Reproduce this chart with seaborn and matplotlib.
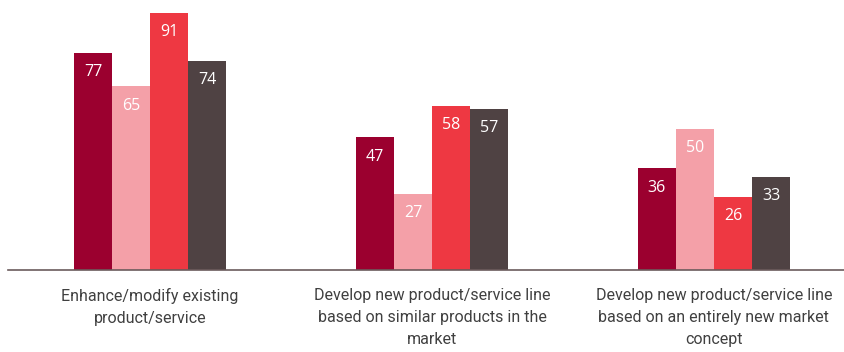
import pandas as pd
import matplotlib.pyplot as plt
import seaborn as sns

categorias = ['Enhance/modify existing\nproduct/service',
              'Develop new product/service line\nbased on similar products in the\nmarket',
              'Develop new product/service line\nbased on an entirely new market\nconcept']
series = ['S1', 'S2', 'S3', 'S4']
s1 = [77, 47, 36]
s2 = [65, 27, 50]
s3 = [91, 58, 26]
s4 = [74, 57, 33]
colores = ['#9b002f', '#f4a0a8', '#ee3842', '#4f4243']

filas = []
for nombre, valores in zip(series, [s1, s2, s3, s4]):
    for cat, v in zip(categorias, valores):
        filas.append({'Categoria': cat, 'Serie': nombre, 'Valor': v})
df = pd.DataFrame(filas)

sns.set_style('white')
plt.rcParams['font.family'] = ['Roboto', 'DejaVu Sans']

fig = plt.figure(figsize=(8.45, 3.52), dpi=100)
ax = fig.add_axes([8 / 845, 82 / 352, 837 / 845, 270 / 352])
sns.barplot(data=df, x='Categoria', y='Valor', hue='Serie', palette=colores,
            width=0.54, gap=0, saturation=1, legend=False, linewidth=0, ax=ax)

# etiquetas blancas dentro de las barras
for cont in ax.containers:
    for barra in cont:
        h = barra.get_height()
        ax.text(barra.get_x() + barra.get_width() / 2, h - 4, f'{h:.0f}',
                ha='center', va='top', color='white', fontsize=11.5,
                family=['Open Sans', 'DejaVu Sans'])

ax.set_xlim(-0.504, 2.465)
ax.set_ylim(0, 95.6)
ax.set_xlabel('')
ax.set_ylabel('')
ax.set_yticks([])
for lado in ['top', 'right', 'left']:
    ax.spines[lado].set_visible(False)
ax.spines['bottom'].set_color('#6b5b5c')
ax.spines['bottom'].set_linewidth(1.2)
ax.tick_params(axis='x', length=0, pad=13, labelsize=11.5, labelcolor='#404040')
for t in ax.get_xticklabels():
    t.set_linespacing(1.6)

fig.savefig('out.png', dpi=100)
